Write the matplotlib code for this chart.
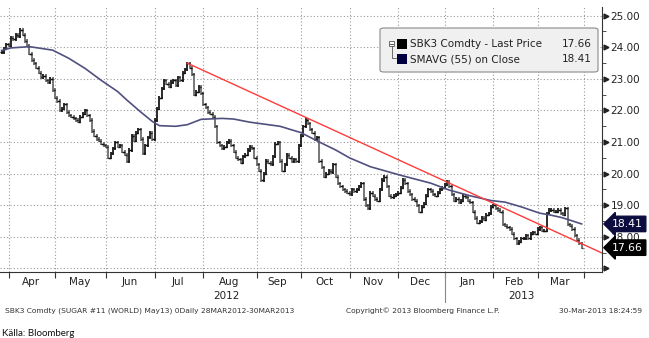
import numpy as np
import pandas as pd
import matplotlib
matplotlib.use('Agg')
import matplotlib.pyplot as plt
from matplotlib.patches import FancyBboxPatch, Rectangle
from matplotlib.lines import Line2D

# ICE sugar trading days, 28 Mar 2012 - 28 Mar 2013
holidays = ['2012-04-06', '2012-05-28', '2012-07-04', '2012-09-03', '2012-10-29', '2012-10-30',
            '2012-11-22', '2012-12-25', '2013-01-01', '2013-01-21', '2013-02-18']

# daily closes
close = [
    23.85, 23.95, 24.10, 24.05, 24.30, 24.25, 24.40, 24.35, 24.55, 24.40,
    24.20, 24.05, 23.80, 23.60, 23.50, 23.35, 23.20, 23.05, 23.10, 22.95,
    22.90, 23.00, 22.65, 22.40, 22.30, 22.00, 22.05, 22.20, 21.95, 21.85,
    21.80, 21.75, 21.70, 21.65, 21.80, 21.90, 22.00, 21.85, 21.70, 21.35,
    21.20, 21.10, 21.05, 20.95, 20.90, 20.85, 20.50, 20.65, 20.80, 21.00,
    20.85, 20.90, 20.70, 20.60, 20.40, 20.75, 21.20, 21.05, 21.30, 21.40,
    21.10, 20.65, 20.90, 21.15, 21.30, 21.10, 21.70, 22.05, 22.40, 22.70,
    22.95, 22.85, 22.75, 22.90, 22.95, 22.80, 23.05, 22.95, 23.20, 23.30,
    23.50, 23.35, 23.15, 22.50, 22.60, 22.75, 22.55, 22.20, 22.10, 21.95,
    21.90, 21.80, 21.50, 21.00, 20.90, 20.80, 20.85, 21.00, 21.05, 20.90,
    20.70, 20.50, 20.45, 20.35, 20.55, 20.60, 20.75, 20.85, 20.80, 20.50,
    20.30, 20.10, 19.80, 20.00, 20.40, 20.35, 20.30, 20.55, 20.95, 21.00,
    20.40, 20.10, 20.30, 20.60, 20.50, 20.40, 20.45, 20.40, 20.90, 21.20,
    21.50, 21.70, 21.60, 21.40, 21.30, 21.10, 21.15, 20.40, 20.20, 19.90,
    20.00, 20.10, 20.05, 20.30, 19.90, 19.70, 19.60, 19.50, 19.45, 19.40,
    19.35, 19.50, 19.45, 19.50, 19.60, 19.70, 19.20, 19.00, 18.90, 19.40,
    19.30, 19.20, 19.15, 19.50, 19.80, 19.90, 19.60, 19.30, 19.25, 19.30,
    19.35, 19.40, 19.55, 19.80, 19.70, 19.45, 19.35, 19.20, 19.15, 19.00,
    18.80, 18.95, 19.05, 19.30, 19.50, 19.45, 19.35, 19.30, 19.40, 19.50,
    19.55, 19.65, 19.75, 19.60, 19.35, 19.15, 19.20, 19.10, 19.15, 19.30,
    19.25, 19.15, 19.10, 18.80, 18.60, 18.45, 18.50, 18.60, 18.55, 18.70,
    18.75, 18.95, 19.00, 18.90, 18.85, 18.80, 18.40, 18.35, 18.30, 18.25,
    18.10, 17.95, 17.80, 17.85, 17.95, 17.95, 18.05, 17.95, 18.10, 18.15,
    18.10, 18.25, 18.30, 18.20, 18.20, 18.75, 18.85, 18.85, 18.80, 18.80,
    18.85, 18.75, 18.70, 18.90, 18.40, 18.35, 18.25, 18.05, 17.90, 17.80,
    17.66,
]

# 55-day simple moving average, read at these trading-day positions
ma_day = [0, 4, 12, 22, 29, 36, 43, 50, 54, 60, 65, 68, 75, 80, 86, 95, 100, 107, 120, 129,
          137, 144, 150, 159, 172, 185, 193, 202, 211, 217, 224, 232, 236, 241, 245, 250]
ma_val = [23.90, 23.98, 24.02, 23.91, 23.65, 23.33, 22.95, 22.60, 22.33, 21.95, 21.65, 21.52,
          21.50, 21.55, 21.72, 21.75, 21.73, 21.63, 21.50, 21.30, 21.00, 20.75, 20.50, 20.22,
          19.95, 19.70, 19.48, 19.30, 19.15, 19.10, 18.95, 18.75, 18.70, 18.62, 18.53, 18.41]

# resistance line drawn on the chart (start day / price, end day / price)
trend_day = [80, 258.8]
trend_val = [23.50, 17.49]

last_price = 17.66
last_ma = 18.41

dates = pd.bdate_range('2012-03-28', '2013-03-28', freq='C', holidays=holidays)
n = len(dates)
close = np.array(close)
assert len(close) == n
opn = np.r_[close[0], close[:-1]]
x = np.arange(n)

W, H = 649, 338
fig = plt.figure(figsize=(W / 100, H / 100), dpi=100)
ax = fig.add_axes([0 / W, 1 - 272 / H, 602 / W, 265 / H])
ax.set_xlim(-0.7, 258.8)
ax.set_ylim(16.889, 25.275)

# month starts (plus the next trading day after the data)
starts = [i for i in range(1, n) if dates[i].month != dates[i - 1].month] + [n]
jan = [i for i in starts[:-1] if dates[i].month == 1][0]

grid_kw = dict(color='#9a9a9a', lw=0.8, ls=(0, (1, 2)), zorder=0)
for s in starts:
    ax.axvline(s, **grid_kw)
for v in range(17, 26):
    ax.axhline(v, **grid_kw)

# OHLC-style bars
up = close >= opn
for mask, col in [(up, '#2a2a2a'), (~up, '#777777')]:
    ax.vlines(x[mask], np.minimum(opn, close)[mask] - 0.05, np.maximum(opn, close)[mask] + 0.05,
              color=col, lw=1.4, zorder=3)
ax.hlines(opn, x - 0.6, x, color='#111111', lw=1.0, zorder=3)
ax.hlines(close, x, x + 0.6, color='#111111', lw=1.0, zorder=3)

ax.plot(ma_day, ma_val, color='#50507f', lw=1.2, zorder=4)
ax.plot(trend_day, trend_val, color='#ff3b3b', lw=1.0, zorder=5)

# axes styling
for side in ['left', 'top']:
    ax.spines[side].set_visible(False)
ax.spines['right'].set_color('#333333')
ax.spines['bottom'].set_color('#333333')

ax.set_xticks(starts)
ax.set_xticklabels([])
ax.tick_params(axis='x', which='major', length=4, color='#333333', direction='out')
ax.plot([jan, jan], [0, -0.115], transform=ax.get_xaxis_transform(), color='#888888',
        lw=0.8, clip_on=False)

for k in range(len(starts) - 1):
    c = (starts[k] + starts[k + 1]) / 2 - 0.5
    ax.text(c, -0.038, dates[starts[k]].strftime('%b'), transform=ax.get_xaxis_transform(),
            ha='center', va='center', fontsize=7.5, color='#222222')
ax.text((starts[0] + jan) / 2, -0.09, '2012', transform=ax.get_xaxis_transform(),
        ha='center', va='center', fontsize=7.5, color='#222222')
ax.text((jan + n) / 2 + 3, -0.09, '2013', transform=ax.get_xaxis_transform(),
        ha='center', va='center', fontsize=7.5, color='#222222')

ax.yaxis.tick_right()
yt = list(range(17, 26))
ax.set_yticks(yt)
ax.set_yticklabels(['' if v == 17 else f'{v:.2f}' for v in yt])
ax.set_yticks(np.arange(17.5, 25, 1), minor=True)
ax.tick_params(axis='y', which='major', length=0, pad=6, labelsize=7.5, labelcolor='#222222')
ax.tick_params(axis='y', which='minor', length=3, color='#333333', direction='out')
ax.plot(np.full(len(yt), 1.007), yt, transform=ax.get_yaxis_transform(), ls='none',
        marker='>', ms=3.5, color='#222222', clip_on=False)

# last value tags
for val, fc in [(last_ma, '#0c0c3e'), (last_price, '#000000')]:
    ax.text(1.017, val, f'{val:.2f}', transform=ax.get_yaxis_transform(), ha='left',
            va='center', fontsize=7.8, color='white', zorder=10, clip_on=False,
            bbox=dict(boxstyle='larrow,pad=0.25', fc=fc, ec=fc))

# legend box
fig.patches.append(FancyBboxPatch((380 / W, 1 - 72 / H), 218 / W, 44 / H,
                                  boxstyle='round,pad=0,rounding_size=0.006',
                                  transform=fig.transFigure, fc='#f0f0f0', ec='#8a8a8a', lw=0.8))
fig.patches.append(Rectangle((389 / W, 1 - 46 / H), 5 / W, 5 / H, transform=fig.transFigure,
                             fc='white', ec='#555555', lw=0.6))
fig.lines.append(Line2D([390 / W, 393 / W], [1 - 43.5 / H, 1 - 43.5 / H],
                        transform=fig.transFigure, color='#333333', lw=0.6))
fig.lines.append(Line2D([391.5 / W, 391.5 / W, 396 / W], [1 - 46 / H, 1 - 58 / H, 1 - 58 / H],
                        transform=fig.transFigure, color='#555555', lw=0.6))
fig.patches.append(Rectangle((397 / W, 1 - 49 / H), 10 / W, 10 / H, transform=fig.transFigure,
                             fc='#000000', ec='none'))
fig.patches.append(Rectangle((397 / W, 1 - 64 / H), 10 / W, 10 / H, transform=fig.transFigure,
                             fc='#000040', ec='none'))
fig.text(410 / W, 1 - 44 / H, 'SBK3 Comdty - Last Price', fontsize=7.5, color='#222222',
         va='center')
fig.text(410 / W, 1 - 59 / H, 'SMAVG (55) on Close', fontsize=7.5, color='#222222', va='center')
fig.text(592 / W, 1 - 44 / H, f'{last_price:.2f}', fontsize=7.5, color='#222222', va='center',
         ha='right')
fig.text(592 / W, 1 - 59 / H, f'{last_ma:.2f}', fontsize=7.5, color='#222222', va='center',
         ha='right')

# footer
fig.text(5 / W, 1 - 311 / H, 'SBK3 Comdty (SUGAR #11 (WORLD) May13) 0Daily 28MAR2012-30MAR2013',
         fontsize=5.4, color='#333333', va='center')
fig.text(346 / W, 1 - 311 / H, 'Copyright\u00a9 2013 Bloomberg Finance L.P.', fontsize=5.4,
         color='#333333', va='center')
fig.text(642 / W, 1 - 311 / H, '30-Mar-2013 18:24:59', fontsize=5.4, color='#333333',
         va='center', ha='right')
fig.text(2 / W, 1 - 333 / H, 'Källa: Bloomberg', fontsize=7, color='#111111', va='center',
         family='Lato')

fig.savefig('out.png', dpi=100)
